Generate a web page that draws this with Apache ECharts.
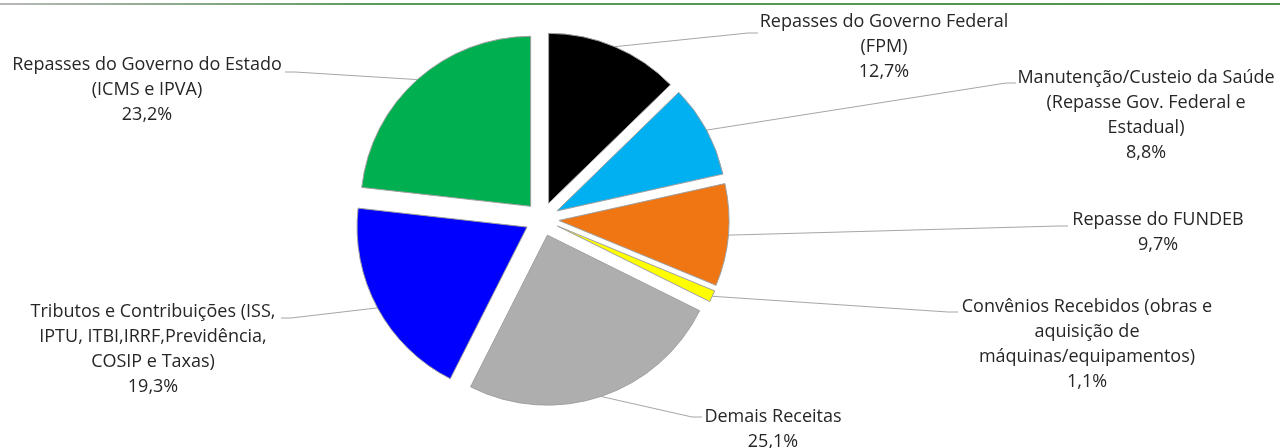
<!DOCTYPE html>
<html>
<head>
<meta charset="utf-8">
<script src="https://cdn.jsdelivr.net/npm/echarts@6/dist/echarts.min.js"></script>
<style>
html,body{margin:0;padding:0;background:#fff;}
#chart{width:1280px;height:448px;}
</style>
</head>
<body>
<div id="chart"></div>
<script>
// ---- data ----
const categories = [
  'Repasses do Governo Federal\n(FPM)',
  'Manutenção/Custeio da Saúde\n(Repasse Gov. Federal e\nEstadual)',
  'Repasse do FUNDEB',
  'Convênios Recebidos (obras e\naquisição de\nmáquinas/equipamentos)',
  'Demais Receitas',
  'Tributos e Contribuições (ISS,\nIPTU, ITBI,IRRF,Previdência,\nCOSIP e Taxas)',
  'Repasses do Governo do Estado\n(ICMS e IPVA)'
];
const values = [12.7, 8.8, 9.7, 1.1, 25.1, 19.3, 23.2];
const colors = ['#000000', '#00B0F0', '#EF7612', '#FFFF00', '#AEAEAE', '#0000FF', '#00B050'];

// ---- layout (label anchors: centre x, top y; leader end point) ----
const labelAnchors = [
  [884, 9], [1146, 65], [1158, 207], [1087, 294], [773, 404], [153, 299], [147, 52]
];
const leaderEnds = [
  [758, 33, 1], [1016, 83, 1], [1068, 226, 1], [958, 312, 1], [702, 417, 1], [281, 318, -1], [285, 72, -1]
];
const CX = 542, CY = 219, R = 170, EXPLODE = 17;

const total = values.reduce((a, b) => a + b, 0);
const series = [];
let cum = 0;
values.forEach((v, i) => {
  const a0 = cum / total * 360;
  const a1 = (cum + v) / total * 360;
  cum += v;
  const mid = (a0 + a1) / 2 * Math.PI / 180;
  const cx = CX + EXPLODE * Math.sin(mid);
  const cy = CY - EXPLODE * Math.cos(mid);
  const sx = cx + R * Math.sin(mid);
  const sy = cy - R * Math.cos(mid);
  const le = leaderEnds[i];
  const la = labelAnchors[i];
  series.push({
    type: 'pie',
    center: [cx, cy],
    radius: R,
    startAngle: 90 - a0,
    clockwise: true,
    avoidLabelOverlap: false,
    animation: false,
    emphasis: { disabled: true },
    data: [
      {
        value: v,
        name: categories[i],
        itemStyle: { color: colors[i], borderColor: '#a0a0a0', borderWidth: 1 },
        label: {
          show: true,
          position: 'outside',
          overflow: 'none',
          formatter: function () { return categories[i] + '\n' + v.toFixed(1).replace('.', ',') + '%'; },
          color: '#262626',
          fontFamily: 'Open Sans',
          fontSize: 18,
          lineHeight: 25,
          align: 'center'
        },
        labelLine: { show: true, lineStyle: { color: '#a6a6a6', width: 1 } }
      },
      {
        value: total - v,
        name: '',
        itemStyle: { color: 'rgba(0,0,0,0)', borderWidth: 0 },
        label: { show: false },
        labelLine: { show: false }
      }
    ],
    labelLayout: function (p) {
      if (p.dataIndex !== 0) return {};
      return {
        x: la[0], y: la[1], align: 'center', verticalAlign: 'top',
        labelLinePoints: [[sx, sy], [le[0] - le[2] * 10, le[1]], [le[0], le[1]]]
      };
    }
  });
});

const chart = echarts.init(document.getElementById('chart'), null, { renderer: 'canvas' });
chart.setOption({
  backgroundColor: '#ffffff',
  animation: false,
  graphic: [{
    type: 'rect',
    shape: { x: 0, y: 3, width: 1280, height: 2 },
    style: {
      fill: new echarts.graphic.LinearGradient(0, 0, 1, 0, [
        { offset: 0, color: '#b8b8b8' },
        { offset: 0.3, color: '#5a9a5a' },
        { offset: 1, color: '#4e944f' }
      ])
    },
    silent: true
  }],
  series: series
});
</script>
</body>
</html>
